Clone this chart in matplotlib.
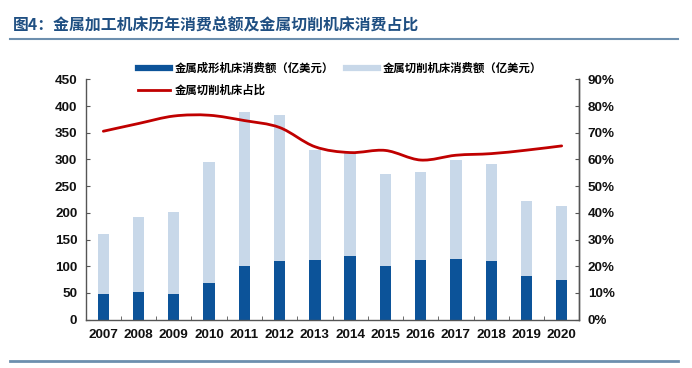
import numpy as np
import matplotlib
matplotlib.use("Agg")
import matplotlib.pyplot as plt
from matplotlib.path import Path
from matplotlib.patches import PathPatch
from matplotlib.lines import Line2D
from matplotlib.ticker import FuncFormatter, MultipleLocator, FixedLocator

# data
years = ["2007", "2008", "2009", "2010", "2011", "2012", "2013",
         "2014", "2015", "2016", "2017", "2018", "2019", "2020"]
forming = [47, 52, 48, 69, 100, 109, 112, 119, 100, 111, 114, 109, 81, 74]
cutting = [113, 140, 153, 226, 289, 275, 205, 193, 172, 165, 185, 182, 141, 138]
share = [70.6, 73.5, 76.3, 76.6, 74.6, 72.0, 64.8, 62.6, 63.4, 59.8, 61.6, 62.2, 63.5, 65.1]

title = "图4：金属加工机床历年消费总额及金属切削机床消费占比"
lab_forming = "金属成形机床消费额（亿美元）"
lab_cutting = "金属切削机床消费额（亿美元）"
lab_share = "金属切削机床占比"

c_dark = "#0c5399"
c_light = "#c8d8e9"
c_red = "#c00000"
c_title = "#1f4f82"
c_rule = "#6d8fae"

cjk = ["Noto Sans CJK SC", "DejaVu Sans"]
num = "Liberation Sans"

fig = plt.figure(figsize=(6.92, 3.68), dpi=100)
W, H = 692.0, 368.0
ax = fig.add_axes([85.7 / W, 1 - 319.5 / H, (579.3 - 85.7) / W, 240 / H])
ax2 = ax.twinx()

x = np.arange(len(years))
ax.bar(x, forming, width=0.32, color=c_dark, zorder=2)
ax.bar(x, cutting, width=0.32, bottom=forming, color=c_light, zorder=2)

# smoothed line (Excel style) built from the share values
pts = np.column_stack([x, share]).astype(float)
verts = [tuple(pts[0])]
codes = [Path.MOVETO]
n = len(pts)
for i in range(n - 1):
    p0 = pts[max(i - 1, 0)]
    p1 = pts[i]
    p2 = pts[i + 1]
    p3 = pts[min(i + 2, n - 1)]
    verts += [tuple(p1 + (p2 - p0) / 6), tuple(p2 - (p3 - p1) / 6), tuple(p2)]
    codes += [Path.CURVE4] * 3
ax2.add_patch(PathPatch(Path(verts, codes), facecolor="none", edgecolor=c_red,
                        lw=2.0, capstyle="round", zorder=3))
ax2.plot(x, share, lw=0, color=c_red)

ax.set_xlim(-0.5, len(years) - 0.5)
ax.set_ylim(0, 450)
ax2.set_ylim(0, 90)
ax.yaxis.set_major_locator(MultipleLocator(50))
ax2.yaxis.set_major_locator(MultipleLocator(10))
ax2.yaxis.set_major_formatter(FuncFormatter(lambda v, p: "%d%%" % v))

ax.set_xticks(x)
ax.set_xticklabels(years)
ax.xaxis.set_minor_locator(FixedLocator(np.arange(0.5, len(years) - 1, 1)))
ax.tick_params(axis="x", which="major", length=0, pad=7)
ax.tick_params(axis="x", which="minor", direction="in", length=3, color="#555555")
ax.tick_params(axis="y", direction="in", length=3, color="#555555", pad=6)
ax2.tick_params(axis="y", direction="in", length=3, color="#555555", pad=6)

for a in (ax, ax2):
    a.spines["top"].set_visible(False)
    for s in ("left", "right", "bottom"):
        a.spines[s].set_color("#555555")
        a.spines[s].set_linewidth(1.0)
    for t in a.get_xticklabels() + a.get_yticklabels():
        t.set_fontfamily(num)
        t.set_fontsize(9.7)
        t.set_fontweight("bold")
        t.set_color("#111111")
ax2.spines["left"].set_visible(False)
ax2.spines["bottom"].set_visible(False)

handles = [Line2D([], [], color=c_dark, lw=4.5),
           Line2D([], [], color=c_red, lw=2),
           Line2D([], [], color=c_light, lw=4.5)]
labels = [lab_forming, lab_share, lab_cutting]
fig.legend(handles, labels, loc="upper left", ncol=2, frameon=False,
           bbox_to_anchor=(138 / W, 1 - 62 / H), bbox_transform=fig.transFigure,
           borderpad=0, borderaxespad=0, handlelength=2.8, handletextpad=0.45,
           columnspacing=1.0, labelspacing=0.8,
           prop={"family": cjk, "size": 8.2, "weight": "bold"})

fig.text(13 / W, 1 - 25 / H, title, fontfamily=cjk, fontsize=11.4, fontweight="bold",
         color=c_title, va="center", ha="left")
fig.add_artist(Line2D([10 / W, 678 / W], [1 - 38.5 / H, 1 - 38.5 / H],
                      transform=fig.transFigure, color=c_rule, lw=1.5))
fig.add_artist(Line2D([10 / W, 678 / W], [1 - 361 / H, 1 - 361 / H],
                      transform=fig.transFigure, color=c_rule, lw=2.0))

fig.savefig("out.png", dpi=100)
